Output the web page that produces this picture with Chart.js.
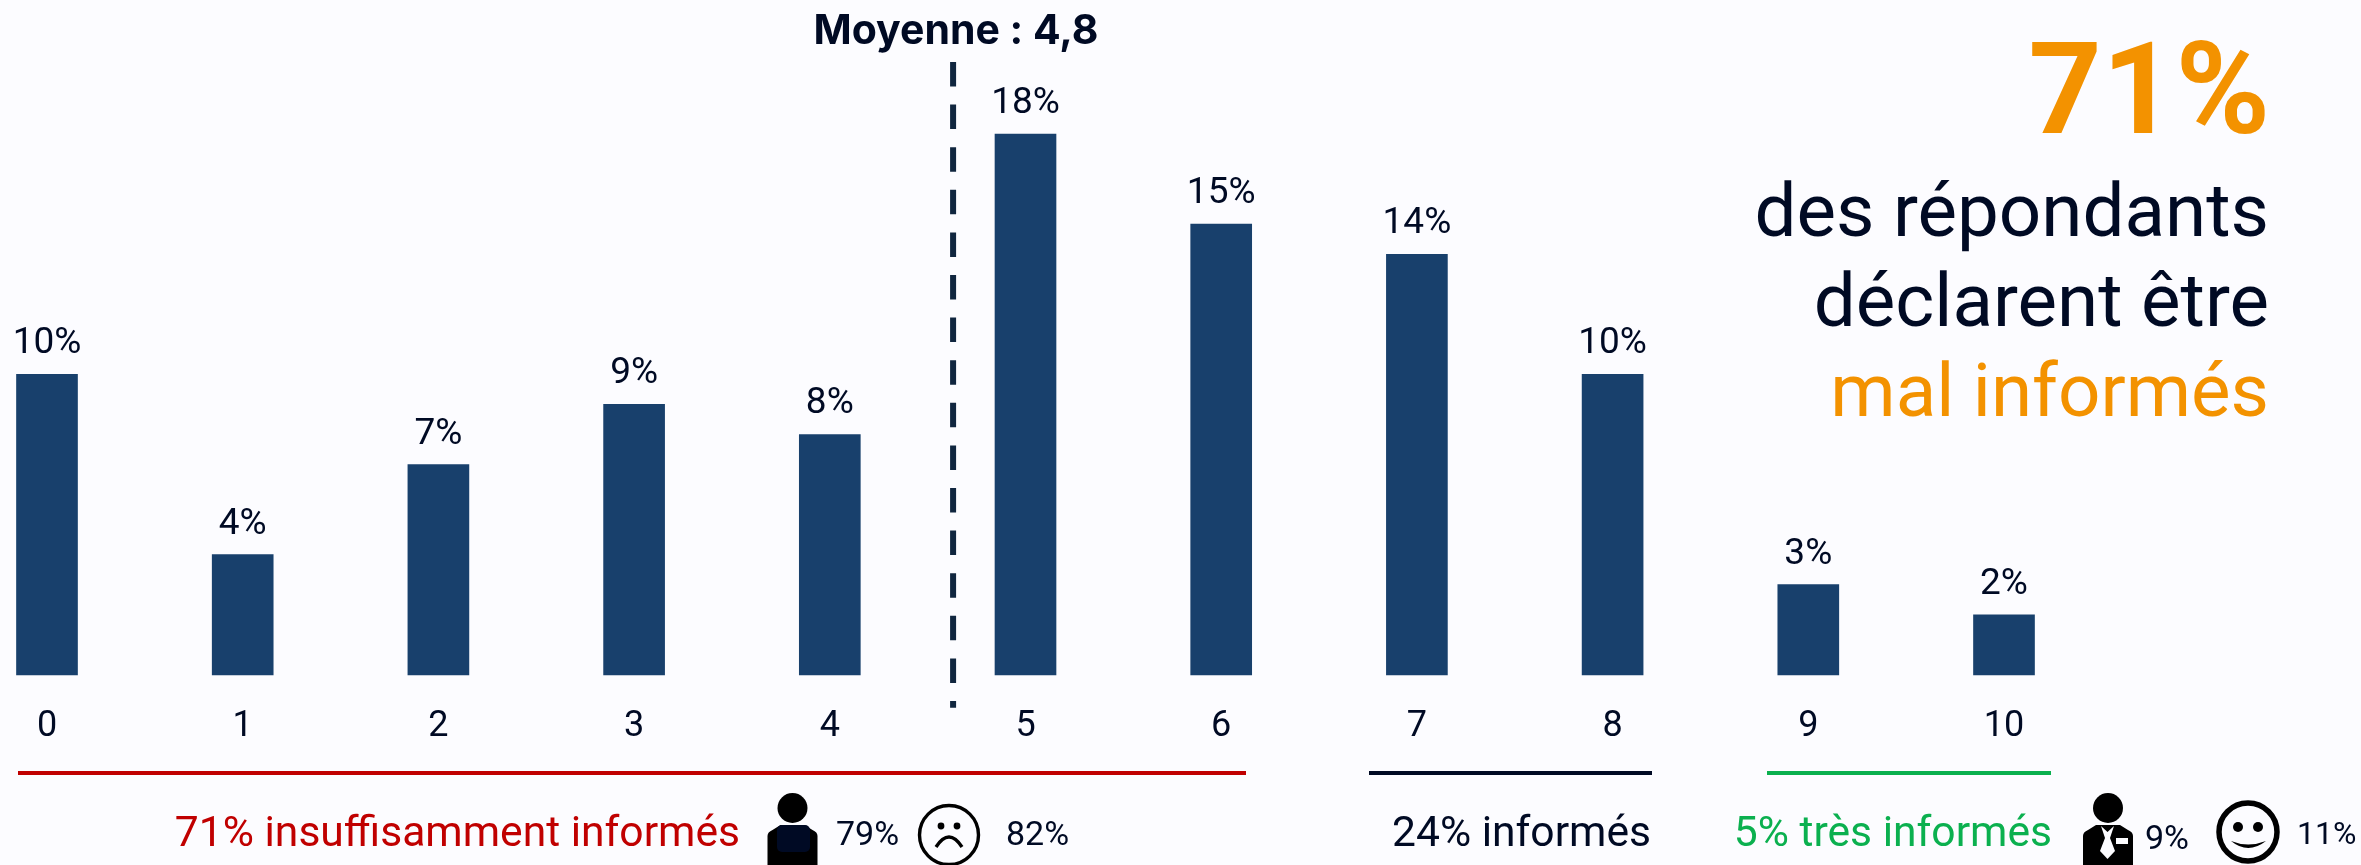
<!DOCTYPE html>
<html lang="fr">
<head>
<meta charset="utf-8">
<title>Niveau d'information</title>
<script src="https://cdn.jsdelivr.net/npm/chart.js@4"></script>
<style>
  html, body { margin: 0; padding: 0; background: #fcfcff; overflow: hidden; }
  #wrap { position: relative; width: 2361px; height: 865px; }
</style>
</head>
<body>
<div id="wrap"><canvas id="chart"></canvas></div>
<script>
const categories = ["0", "1", "2", "3", "4", "5", "6", "7", "8", "9", "10"];
const shares = [10, 4, 7, 9, 8, 18, 15, 14, 10, 3, 2];

const INK = "#000a24";
const BAR = "#18406c";
const ORANGE = "#f39200";
const RED = "#c00000";
const GREEN = "#0bb04f";
const FONT = "Roboto, sans-serif";

function text(ctx, str, x, y, font, color, align) {
  ctx.font = font;
  ctx.fillStyle = color;
  ctx.textAlign = align || "left";
  ctx.textBaseline = "alphabetic";
  ctx.fillText(str, x, y);
}

function rule(ctx, x1, x2, y, color) {
  ctx.fillStyle = color;
  ctx.fillRect(x1, y - 2, x2 - x1, 4);
}

function drawBust(ctx, cx) {
  ctx.fillStyle = "#000";
  ctx.beginPath();
  ctx.arc(cx, 808, 15, 0, Math.PI * 2);
  ctx.fill();
  ctx.beginPath();
  ctx.moveTo(cx - 25, 865);
  ctx.lineTo(cx - 25, 836);
  ctx.quadraticCurveTo(cx - 25, 832, cx - 20, 830);
  ctx.lineTo(cx - 12, 825);
  ctx.lineTo(cx + 12, 825);
  ctx.lineTo(cx + 20, 830);
  ctx.quadraticCurveTo(cx + 25, 832, cx + 25, 836);
  ctx.lineTo(cx + 25, 865);
  ctx.closePath();
  ctx.fill();
}

// Bars' value labels, read from the bar elements
const valueLabels = {
  id: "valueLabels",
  afterDatasetsDraw(chart) {
    const ctx = chart.ctx;
    ctx.save();
    chart.getDatasetMeta(0).data.forEach((bar, i) => {
      text(ctx, shares[i] + "%", bar.x, bar.y - 21, "37px " + FONT, INK, "center");
    });
    ctx.restore();
  },
};

// Dashed mean marker, placed on the category scale
const meanLine = {
  id: "meanLine",
  afterDatasetsDraw(chart) {
    const ctx = chart.ctx;
    const x = chart.scales.x.getPixelForValue(4.63);
    ctx.save();
    ctx.strokeStyle = "#10263f";
    ctx.lineWidth = 6;
    ctx.setLineDash([24.5, 18.1]);
    ctx.beginPath();
    ctx.moveTo(x, 62);
    ctx.lineTo(x, 707.7);
    ctx.stroke();
    ctx.restore();
    ctx.save();
    text(ctx, "Moyenne : 4,8", 956, 44, "bold 41px Inter, sans-serif", INK, "center");
    ctx.restore();
  },
};

const callout = {
  id: "callout",
  afterDraw(chart) {
    const ctx = chart.ctx;
    ctx.save();
    text(ctx, "71%", 2270, 133, "bold 128px " + FONT, ORANGE, "right");
    text(ctx, "des répondants", 2269, 236, "74.5px " + FONT, INK, "right");
    text(ctx, "déclarent être", 2269, 326, "74.5px " + FONT, INK, "right");
    text(ctx, "mal informés", 2269, 416, "74.5px " + FONT, ORANGE, "right");
    ctx.restore();
  },
};

const groups = {
  id: "groups",
  afterDraw(chart) {
    const ctx = chart.ctx;
    ctx.save();
    rule(ctx, 18, 1246, 773, RED);
    rule(ctx, 1369, 1652, 773, INK);
    rule(ctx, 1767, 2051, 773, GREEN);

    text(ctx, "71% insuffisamment informés", 740, 846, "42.6px " + FONT, RED, "right");
    text(ctx, "24% informés", 1651, 846, "42.6px " + FONT, INK, "right");
    text(ctx, "5% très informés", 2052, 846, "42.6px " + FONT, GREEN, "right");

    text(ctx, "79%", 836, 845, "34px " + FONT, INK);
    text(ctx, "82%", 1006, 845, "34px " + FONT, INK);
    text(ctx, "9%", 2145, 849, "34px " + FONT, INK);
    text(ctx, "11%", 2297, 844, "32px " + FONT, INK);

    // person, low score
    drawBust(ctx, 792.5);
    ctx.fillStyle = INK;
    ctx.beginPath();
    ctx.roundRect(777, 825, 33, 27, 5);
    ctx.fill();

    // sad face
    ctx.strokeStyle = "#000";
    ctx.lineWidth = 3.4;
    ctx.beginPath();
    ctx.arc(949, 835, 29.5, 0, Math.PI * 2);
    ctx.stroke();
    ctx.fillStyle = "#000";
    [941, 957].forEach((x) => {
      ctx.beginPath();
      ctx.arc(x, 826, 3.4, 0, Math.PI * 2);
      ctx.fill();
    });
    ctx.beginPath();
    ctx.moveTo(936, 847);
    ctx.quadraticCurveTo(949, 827, 962, 847);
    ctx.stroke();

    // person, high score
    drawBust(ctx, 2108);
    ctx.fillStyle = "#fcfcff";
    ctx.beginPath();
    ctx.moveTo(2101, 826);
    ctx.lineTo(2107.5, 832);
    ctx.lineTo(2114, 826);
    ctx.lineTo(2110, 838);
    ctx.lineTo(2115, 851);
    ctx.lineTo(2107.5, 859);
    ctx.lineTo(2100, 851);
    ctx.lineTo(2105, 838);
    ctx.closePath();
    ctx.fill();
    ctx.fillRect(2116, 838, 12, 6);

    // happy face
    ctx.strokeStyle = "#000";
    ctx.lineWidth = 5.5;
    ctx.beginPath();
    ctx.arc(2248, 832, 29, 0, Math.PI * 2);
    ctx.stroke();
    ctx.fillStyle = "#000";
    [2238, 2258].forEach((x) => {
      ctx.beginPath();
      ctx.arc(x, 827, 5, 0, Math.PI * 2);
      ctx.fill();
    });
    ctx.beginPath();
    ctx.moveTo(2231, 841);
    ctx.quadraticCurveTo(2248, 855, 2266, 841);
    ctx.quadraticCurveTo(2248, 848, 2231, 841);
    ctx.fill();
    ctx.restore();
  },
};

new Chart(document.getElementById("chart"), {
  type: "bar",
  data: {
    labels: categories,
    datasets: [{
      data: shares,
      backgroundColor: BAR,
      barThickness: 61,
      clip: false,
    }],
  },
  options: {
    responsive: true,
    maintainAspectRatio: false,
    animation: false,
    layout: { padding: { left: 47, right: 357, top: 74, bottom: 93 } },
    plugins: { legend: { display: false }, tooltip: { enabled: false } },
    scales: {
      x: {
        offset: false,
        grid: { display: false },
        border: { display: false },
        ticks: {
          color: INK,
          font: { family: "Roboto", size: 36 },
          padding: 23,
          autoSkip: false,
          maxRotation: 0,
        },
      },
      y: { display: false, min: 0, max: 20 },
    },
  },
  plugins: [valueLabels, meanLine, groups, callout],
});
</script>
</body>
</html>
